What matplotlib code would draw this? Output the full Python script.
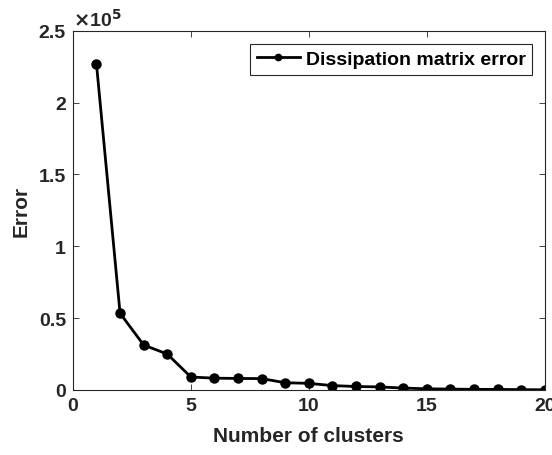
import matplotlib.pyplot as plt
import numpy as np
from matplotlib.ticker import FuncFormatter

plt.rcParams['font.family'] = ['Liberation Sans', 'DejaVu Sans']
plt.rcParams['font.weight'] = 'bold'

# number of clusters vs. error
clusters = np.arange(1, 21)
error = [227000, 53300, 31200, 24900, 8900, 8100, 7900, 7800, 4900, 4500,
         2900, 2300, 2000, 1200, 700, 500, 300, 300, 100, 0]

fig = plt.figure(figsize=(5.52, 4.56), dpi=100)
ax = fig.add_axes([0.132, 0.143, 0.855, 0.787])

ax.plot(clusters, error, '-o', color='black', lw=2, ms=6.5,
        label='Dissipation matrix error')

ax.set_xlim(0, 20)
ax.set_ylim(0, 2.5e5)
ax.set_xticks([0, 5, 10, 15, 20])
ax.set_yticks(np.arange(0, 2.51e5, 0.5e5))
ax.yaxis.set_major_formatter(FuncFormatter(lambda v, p: f'{v / 1e5:g}'))
ax.text(0.0, 1.003, r'$\times$10$^{5}$', transform=ax.transAxes,
        fontsize=14, color='#262626', va='bottom', ha='left')

ax.set_xlabel('Number of clusters', fontsize=15, fontweight='bold',
              color='#262626', labelpad=9)
ax.set_ylabel('Error', fontsize=15, fontweight='bold', color='#262626',
              labelpad=6)

ax.tick_params(direction='in', length=4, width=0.6, labelsize=14, pad=5,
               top=True, right=True, colors='#262626')
for s in ax.spines.values():
    s.set_linewidth(0.8)
    s.set_color('#262626')

leg = ax.legend(loc='upper right', fontsize=14, fancybox=False,
                framealpha=1, edgecolor='#262626', borderpad=0.35,
                handlelength=2.2, handletextpad=0.3, markerscale=0.7,
                borderaxespad=0.65)
leg.get_frame().set_linewidth(0.8)

fig.savefig('out.png', dpi=100)
